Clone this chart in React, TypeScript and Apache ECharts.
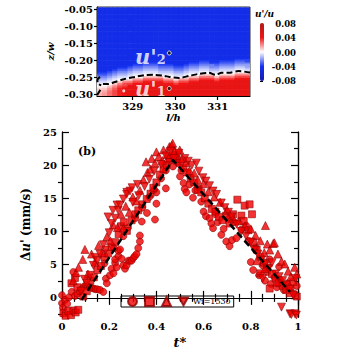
import React, { useEffect, useRef } from "react";
import * as echarts from "echarts";

const FONT = "'DejaVu Serif', serif";

// ---------- panel (a) ----------
const heatColX = [
  328.22, 328.34, 328.46, 328.58, 328.7, 328.82, 328.94, 329.06, 329.18, 329.3,
  329.42, 329.54, 329.66, 329.78, 329.9, 330.02, 330.14, 330.26, 330.38, 330.5,
  330.62, 330.74, 330.86, 330.98, 331.1, 331.22, 331.34, 331.46, 331.58, 331.7,
];
const interfaceZ = [
  -0.272, -0.27, -0.268, -0.264, -0.259, -0.255, -0.252, -0.249, -0.246, -0.244,
  -0.243, -0.243, -0.245, -0.247, -0.249, -0.251, -0.25, -0.247, -0.244, -0.241,
  -0.239, -0.237, -0.24, -0.242, -0.238, -0.237, -0.236, -0.233, -0.232, -0.235,
];
const redStrength = [
  0.3, 0.4, 0.55, 0.7, 0.85, 0.95, 1, 1, 1, 1, 1, 1, 1, 1, 1, 1, 1, 1, 1, 1, 1, 1,
  1, 1, 1, 1, 1, 1, 1, 1,
];
const aboveProfile = [0, -0.003, -0.007, -0.012, -0.018, -0.024, -0.03, -0.036, -0.041, -0.045];
const belowProfile = [0, 0.012, 0.024, 0.033, 0.04, 0.045];
const contourMain = [
  [328.3, -0.27], [328.42, -0.27], [328.58, -0.264], [328.81, -0.255],
  [329.05, -0.249], [329.28, -0.244], [329.51, -0.243], [329.74, -0.246],
  [329.86, -0.249], [330.09, -0.252], [330.33, -0.246], [330.56, -0.24],
  [330.79, -0.237], [330.95, -0.243], [331.09, -0.237], [331.26, -0.237],
  [331.49, -0.232], [331.76, -0.236],
];
const contourLeftA = [[328.23, -0.249], [328.17, -0.258], [328.18, -0.268], [328.26, -0.274]];
const contourLeftB = [[328.24, -0.287], [328.16, -0.303]];
const probeX = [329.86, 329.86, 328.79];
const probeZ = [-0.179, -0.283, -0.29];
const probeSub = ["2", "1", ""];
const zTicks = [-0.3, -0.25, -0.2, -0.15, -0.1, -0.05];
const lTicks = [329, 330, 331];

// ---------- panel (b) ----------
const circlePts = [
  [0, 0.4], [0, -0.8], [0.004, -1.5], [0.013, -0.3], [0.022, -0.9], [0.03, 0.1], [0.041, 0.9],
  [0.048, 3.9], [0.055, 0.3], [0.065, 0.6], [0.075, 1.0], [0.085, 1.4], [0.093, 1.7], [0.102, 1.9],
  [0.11, 1.7], [0.118, 1.6], [0.126, 1.5], [0.134, 1.4], [0.142, 1.3], [0.15, 1.3], [0.161, 1.2],
  [0.175, 0.9], [0.186, 2.9], [0.19, 2.2], [0.203, 3.4], [0.21, 4.4], [0.218, 3.7], [0.225, 5.3],
  [0.225, 5.8], [0.232, 4.6], [0.239, 6.3], [0.239, 7.1], [0.246, 7.3], [0.253, 5.9], [0.26, 4.9],
  [0.267, 4.4], [0.274, 4.9], [0.281, 5.6], [0.288, 5.6], [0.295, 5.6], [0.302, 6.0], [0.309, 6.3],
  [0.316, 6.6], [0.323, 7.5], [0.33, 8.5], [0.33, 9.4], [0.338, 11.5], [0.36, 12.8], [0.394, 11.8],
  [0.4, 14.2], [0.4, 15.9], [0.44, 16.5], [0.18, 5.2], [0.22, 7.5], [0.26, 9.3], [0.28, 10.6],
  [0.31, 12.0], [0.34, 13.6], [0.37, 15.2], [0.39, 16.3], [0.42, 18.0], [0.44, 19.2], [0.455, 20.6],
  [0.47, 19.8], [0.48, 21.6], [0.49, 20.4], [0.5, 18.3], [0.506, 19.2], [0.515, 17.3], [0.52, 16.4],
  [0.527, 15.9], [0.54, 17.1], [0.555, 15.1], [0.565, 16.2], [0.58, 16.6], [0.59, 14.5], [0.6, 13.0],
  [0.61, 12.3], [0.625, 12.0], [0.633, 11.2], [0.64, 10.5], [0.65, 12.6], [0.66, 11.4], [0.675, 9.5],
  [0.685, 10.4], [0.696, 8.5], [0.71, 7.8], [0.72, 8.7], [0.739, 9.0], [0.705, 11.9], [0.73, 11.4],
  [0.76, 10.3], [0.78, 10.9], [0.79, 8.6], [0.8, 5.4], [0.81, 4.2], [0.82, 7.6], [0.835, 3.4],
  [0.85, 4.9], [0.86, 2.6], [0.87, 3.9], [0.885, 2.1], [0.9, 3.1], [0.91, 1.6], [0.925, 2.7],
  [0.94, 1.2], [0.955, 2.2], [0.97, 1.5], [0.985, 0.6], [0.995, 1.8], [0.88, 5.8], [0.92, 4.7],
];
const squarePts = [
  [0.006, -2.3], [0.015, -2.7], [0.027, -2.0], [0.038, -2.6], [0.048, -1.9], [0.058, -2.2],
  [0.069, -1.8], [0.04, 2.2], [0.055, 3.0], [0.065, 1.6], [0.09, 0.2], [0.105, 1.0], [0.12, 2.6],
  [0.135, 3.1], [0.15, 4.2], [0.165, 4.8], [0.18, 6.1], [0.195, 6.7], [0.21, 7.7], [0.225, 8.4],
  [0.24, 9.6], [0.25, 10.8], [0.262, 11.4], [0.275, 10.1], [0.295, 11.7], [0.31, 12.6], [0.323, 13.2],
  [0.34, 14.1], [0.359, 14.9], [0.375, 15.7], [0.387, 16.6], [0.4, 17.4], [0.415, 18.6], [0.43, 19.4],
  [0.443, 20.0], [0.455, 21.0], [0.47, 21.5], [0.485, 20.7], [0.5, 20.3], [0.515, 19.6], [0.53, 18.9],
  [0.545, 18.0], [0.56, 17.4], [0.575, 16.3], [0.59, 15.9], [0.605, 15.0], [0.62, 14.2], [0.635, 13.4],
  [0.65, 13.0], [0.665, 12.2], [0.68, 11.7], [0.695, 12.4], [0.71, 11.2], [0.725, 12.6], [0.743, 14.8],
  [0.76, 12.4], [0.774, 13.9], [0.795, 14.1], [0.805, 12.6], [0.77, 11.6], [0.79, 10.2], [0.81, 8.4],
  [0.825, 7.3], [0.84, 6.2], [0.855, 5.3], [0.87, 4.6], [0.89, 3.6], [0.905, 2.9], [0.92, 2.2],
  [0.935, 1.8], [0.95, 1.2], [0.965, 0.7], [0.98, 2.4], [0.995, 0.2], [0.84, 3.7], [0.88, 1.4],
];
const trianglePts = [
  [0.048, 2.6], [0.06, 3.8], [0.07, 4.6], [0.088, 5.8], [0.097, 7.3], [0.11, 3.6], [0.125, 6.6],
  [0.14, 5.4], [0.155, 7.9], [0.17, 6.8], [0.19, 9.2], [0.205, 8.6], [0.217, 11.0], [0.235, 10.6],
  [0.26, 10.5], [0.25, 12.6], [0.27, 13.8], [0.285, 12.9], [0.3, 15.2], [0.315, 14.6], [0.33, 16.2],
  [0.345, 17.8], [0.356, 20.5], [0.362, 18.9], [0.375, 19.4], [0.38, 21.0], [0.394, 20.3], [0.4, 22.0],
  [0.41, 21.3], [0.425, 20.7], [0.43, 22.3], [0.445, 21.6], [0.455, 22.8], [0.465, 23.0], [0.469, 23.3],
  [0.478, 22.2], [0.49, 21.5], [0.499, 22.3], [0.51, 21.0], [0.525, 20.4], [0.54, 19.2], [0.56, 18.8],
  [0.575, 17.8], [0.6, 17.2], [0.62, 16.0], [0.645, 15.2], [0.67, 14.4], [0.7, 13.2], [0.725, 12.0],
  [0.75, 11.6], [0.775, 10.8], [0.8, 10.4], [0.82, 9.4], [0.84, 8.6], [0.857, 6.8], [0.862, 10.9],
  [0.87, 8.1], [0.88, 7.2], [0.895, 8.2], [0.9, 8.3], [0.915, 6.6], [0.93, 5.5], [0.944, 5.1],
  [0.958, 4.0], [0.97, 3.2], [0.986, 4.6], [0.995, 3.6], [0.86, 4.4], [0.825, 5.6], [0.91, 2.4],
];
const invTrianglePts = [
  [0.08, 1.0], [0.095, 2.8], [0.105, 2.2], [0.119, 3.4], [0.133, 4.9], [0.14, 6.1], [0.15, 5.6],
  [0.161, 6.6], [0.175, 8.0], [0.185, 7.2], [0.195, 12.2], [0.2, 9.8], [0.21, 11.2], [0.216, 13.2],
  [0.225, 12.0], [0.233, 14.0], [0.238, 13.2], [0.246, 14.0], [0.26, 14.9], [0.275, 15.9],
  [0.274, 15.6], [0.288, 16.1], [0.297, 16.6], [0.32, 17.1], [0.3, 14.4], [0.325, 15.4], [0.35, 16.8],
  [0.37, 17.9], [0.39, 19.1], [0.42, 20.1], [0.44, 21.4], [0.46, 22.1], [0.475, 21.0], [0.495, 21.8],
  [0.52, 21.0], [0.535, 20.6], [0.55, 20.0], [0.569, 20.3], [0.58, 19.1], [0.597, 18.1], [0.61, 17.6],
  [0.625, 16.9], [0.64, 16.1], [0.655, 15.6], [0.675, 14.3], [0.69, 13.6], [0.705, 12.9], [0.72, 12.2],
  [0.74, 11.1], [0.76, 10.0], [0.78, 9.3], [0.8, 8.4], [0.815, 7.2], [0.83, 6.6], [0.845, 5.7],
  [0.86, 5.1], [0.875, 4.4], [0.89, 5.3], [0.905, 3.6], [0.92, 3.2], [0.935, 2.6], [0.95, 1.9],
  [0.965, 1.3], [0.98, 0.4], [0.99, 2.9], [0.93, -1.4], [0.966, -2.4], [0.972, -2.5], [0.987, -2.4],
  [0.993, -2.6], [0.85, 2.9],
];
const trendLine = [[0.083, -0.3], [0.47, 20.8], [0.966, 0.9]];
const duMajor = [0, 5, 10, 15, 20, 25];
const duMinor = [-2.5, 2.5, 7.5, 12.5, 17.5, 22.5];
const seriesNames = ["circles", "squares", "triangles", "Wi=1530"];

const CW = 0.12;
const RH = 0.005;
const Z0 = -0.305;
const ROWS = 52;

const heatData: number[][] = [];
heatColX.forEach((x, j) => {
  for (let i = 0; i < ROWS; i++) {
    const z = Z0 + RH * (i + 0.5);
    const k = Math.round((z - interfaceZ[j]) / RH);
    let v;
    if (k >= 0) v = aboveProfile[Math.min(k, aboveProfile.length - 1)];
    else v = belowProfile[Math.min(-k, belowProfile.length - 1)] * redStrength[j];
    heatData.push([x, z, v]);
  }
});

const lbl = { fontFamily: FONT, fontWeight: "bold" as const, fontSize: 10, color: "#000" };
const blackLine = { color: "#000", width: 1.2 };
const markerStyle = { color: "#f00000", borderColor: "#8a0000", borderWidth: 0.7 };

export default function App() {
  const ref = useRef<HTMLDivElement>(null);
  useEffect(() => {
    if (!ref.current) return;
    const chart = echarts.init(ref.current, null, { renderer: "svg" });
    const scatter = (name: string, pts: number[][], symbol: string, size: number) => ({
      name,
      type: "scatter",
      xAxisIndex: 1,
      yAxisIndex: 1,
      data: pts,
      symbol,
      symbolSize: size,
      itemStyle: markerStyle,
      z: 3,
    });
    const option: any = {
      animation: false,
      backgroundColor: "#fff",
      grid: [
        { left: 97, top: 7, width: 153, height: 89, show: true, borderColor: "#333", borderWidth: 1 },
        { left: 62, top: 132, width: 236, height: 190 },
        { left: 260, top: 24, width: 4, height: 57 },
      ],
      xAxis: [
        {
          gridIndex: 0, type: "value", min: 328.16, max: 331.76,
          axisLine: { lineStyle: blackLine },
          axisTick: { show: true, length: 4, customValues: lTicks, lineStyle: blackLine },
          axisLabel: { ...lbl, margin: 5, customValues: lTicks },
          splitLine: { show: false },
          name: "l/h", nameLocation: "middle", nameGap: 16,
          nameTextStyle: { fontFamily: FONT, fontWeight: "bold", fontStyle: "italic", fontSize: 10, color: "#000" },
        },
        {
          gridIndex: 1, type: "value", min: 0, max: 1, interval: 0.2,
          axisLine: { lineStyle: blackLine },
          axisTick: { inside: true, length: 7, lineStyle: blackLine },
          minorTick: { show: true, splitNumber: 4, length: 4, lineStyle: blackLine },
          axisLabel: { ...lbl, margin: 4 },
          splitLine: { show: false },
          name: "t*", nameLocation: "middle", nameGap: 17,
          nameTextStyle: { fontFamily: FONT, fontWeight: "bold", fontStyle: "italic", fontSize: 13, color: "#000" },
        },
        {
          gridIndex: 1, type: "value", min: 0, max: 1, interval: 0.2, position: "top",
          axisLine: { lineStyle: blackLine },
          axisTick: { inside: true, length: 7, lineStyle: blackLine },
          minorTick: { show: true, splitNumber: 4, length: 4, lineStyle: blackLine },
          axisLabel: { show: false },
          splitLine: { show: false },
        },
        { gridIndex: 2, type: "value", show: false, min: 0, max: 1 },
      ],
      yAxis: [
        {
          gridIndex: 0, type: "value", min: -0.305, max: -0.044,
          axisLine: { lineStyle: blackLine },
          axisTick: { show: true, length: 3, customValues: zTicks, lineStyle: blackLine },
          axisLabel: { ...lbl, margin: 4, customValues: zTicks, formatter: (v: number) => v.toFixed(2) },
          splitLine: { show: false },
          name: "z/w", nameLocation: "middle", nameGap: 42, nameRotate: 90,
          nameTextStyle: { fontFamily: FONT, fontWeight: "bold", fontStyle: "italic", fontSize: 10, color: "#000" },
        },
        {
          gridIndex: 1, type: "value", min: -2.9, max: 25,
          axisLine: { lineStyle: blackLine },
          axisTick: { inside: true, length: 7, customValues: duMajor, lineStyle: blackLine },
          axisLabel: { ...lbl, margin: 5, customValues: duMajor },
          splitLine: { show: false },
          name: "{d|Δ}{u|u'} {d|(mm/s)}", nameLocation: "middle", nameGap: 24, nameRotate: 90,
          nameTextStyle: {
            color: "#000",
            rich: {
              d: { fontFamily: FONT, fontWeight: "bold", fontSize: 12, color: "#000" },
              u: { fontFamily: FONT, fontWeight: "bold", fontStyle: "italic", fontSize: 12, color: "#000" },
            },
          },
        },
        {
          gridIndex: 1, type: "value", min: -2.9, max: 25,
          axisLine: { lineStyle: blackLine },
          axisTick: { inside: true, length: 4, customValues: duMinor, lineStyle: blackLine },
          axisLabel: { show: false },
          splitLine: { show: false },
        },
        {
          gridIndex: 1, type: "value", min: -2.9, max: 25, position: "right",
          axisLine: { lineStyle: blackLine },
          axisTick: { inside: true, length: 7, customValues: duMajor, lineStyle: blackLine },
          axisLabel: { show: false },
          splitLine: { show: false },
        },
        {
          gridIndex: 1, type: "value", min: -2.9, max: 25, position: "right",
          axisLine: { lineStyle: blackLine },
          axisTick: { inside: true, length: 4, customValues: duMinor, lineStyle: blackLine },
          axisLabel: { show: false },
          splitLine: { show: false },
        },
        {
          gridIndex: 2, type: "value", min: -0.08, max: 0.08, interval: 0.04, position: "right",
          axisLine: { show: false },
          axisTick: { show: true, length: 3, lineStyle: { color: "#000", width: 1 } },
          axisLabel: {
            fontFamily: FONT, fontWeight: "bold", fontSize: 8.5, color: "#000",
            margin: 32, align: "right", formatter: (v: number) => v.toFixed(2),
          },
          splitLine: { show: false },
        },
      ],
      visualMap: {
        type: "continuous",
        seriesIndex: 0,
        dimension: 2,
        min: -0.08,
        max: 0.08,
        calculable: false,
        left: 260,
        top: 23,
        padding: 0,
        itemWidth: 4,
        itemHeight: 58,
        inRange: { color: ["#1a1ab0", "#1230f0", "#ffffff", "#f01414", "#b01a1a"] },
      },
      legend: {
        data: seriesNames,
        left: 121,
        top: 296,
        orient: "horizontal",
        borderColor: "#000",
        borderWidth: 1,
        padding: [0, 3, 0, 6],
        itemWidth: 9,
        itemHeight: 9,
        itemGap: 6,
        formatter: (n: string) => (n === "Wi=1530" ? n : ""),
        textStyle: { fontFamily: FONT, fontSize: 8, color: "#000" },
      },
      graphic: [
        {
          type: "text", left: 105, top: 20,
          style: { text: "(a)", fill: "#fff", font: `bold 11px ${FONT}` },
        },
        {
          type: "text", left: 78, top: 146,
          style: { text: "(b)", fill: "#000", font: `bold 11px ${FONT}` },
        },
        {
          type: "text", left: 255, top: 9,
          style: { text: "u'/u", fill: "#000", font: `italic bold 9px ${FONT}` },
        },
      ],
      series: [
        {
          type: "custom",
          xAxisIndex: 0,
          yAxisIndex: 0,
          clip: true,
          data: heatData,
          encode: { x: 0, y: 1 },
          renderItem: (_p: any, api: any) => {
            const x = api.value(0);
            const z = api.value(1);
            const p1 = api.coord([x - CW / 2, z + RH / 2]);
            const p2 = api.coord([x + CW / 2, z - RH / 2]);
            return {
              type: "rect",
              shape: { x: p1[0], y: p1[1], width: p2[0] - p1[0] + 0.6, height: p2[1] - p1[1] + 0.6 },
              style: { fill: api.visual("color") },
            };
          },
          z: 1,
        },
        ...[contourMain, contourLeftA, contourLeftB].map((d) => ({
          type: "line",
          xAxisIndex: 0,
          yAxisIndex: 0,
          data: d,
          symbol: "none",
          smooth: 0.3,
          clip: true,
          lineStyle: { color: "#000", width: 2, type: [6, 3] },
          z: 3,
        })),
        {
          type: "scatter",
          xAxisIndex: 0,
          yAxisIndex: 0,
          z: 4,
          data: probeX.map((x, i) => ({
            value: [x, probeZ[i]],
            symbolSize: i < 2 ? 4 : 3,
            itemStyle: i < 2 ? { color: "#111", borderColor: "#fff", borderWidth: 1 } : { color: "#fff" },
            label: {
              show: i < 2,
              position: "left",
              distance: 1,
              offset: i === 0 ? [0, 3] : [0, 0],
              formatter: "{u|u'}{s|" + probeSub[i] + "}",
              rich: {
                u: { fontFamily: FONT, fontWeight: "bold", fontStyle: "italic", fontSize: 21, lineHeight: 18, color: "#fff" },
                s: { fontFamily: FONT, fontWeight: "bold", fontSize: 13, lineHeight: 12, color: "#fff", padding: [6, 0, 0, 0] },
              },
            },
          })),
        },
        scatter(seriesNames[0], circlePts, "circle", 7),
        scatter(seriesNames[1], squarePts, "rect", 7),
        scatter(seriesNames[2], trianglePts, "triangle", 8),
        scatter(seriesNames[3], invTrianglePts, "path://M0,0L10,0L5,9Z", 8),
        {
          type: "line",
          xAxisIndex: 1,
          yAxisIndex: 1,
          data: trendLine,
          symbol: "none",
          lineStyle: { color: "#000", width: 2.5, type: [7, 4] },
          z: 5,
        },
      ],
    };
    chart.setOption(option);
    return () => chart.dispose();
  }, []);
  return (
    <div
      ref={ref}
      style={{ position: "fixed", left: 0, top: 0, width: 339, height: 354, background: "#fff" }}
    />
  );
}
